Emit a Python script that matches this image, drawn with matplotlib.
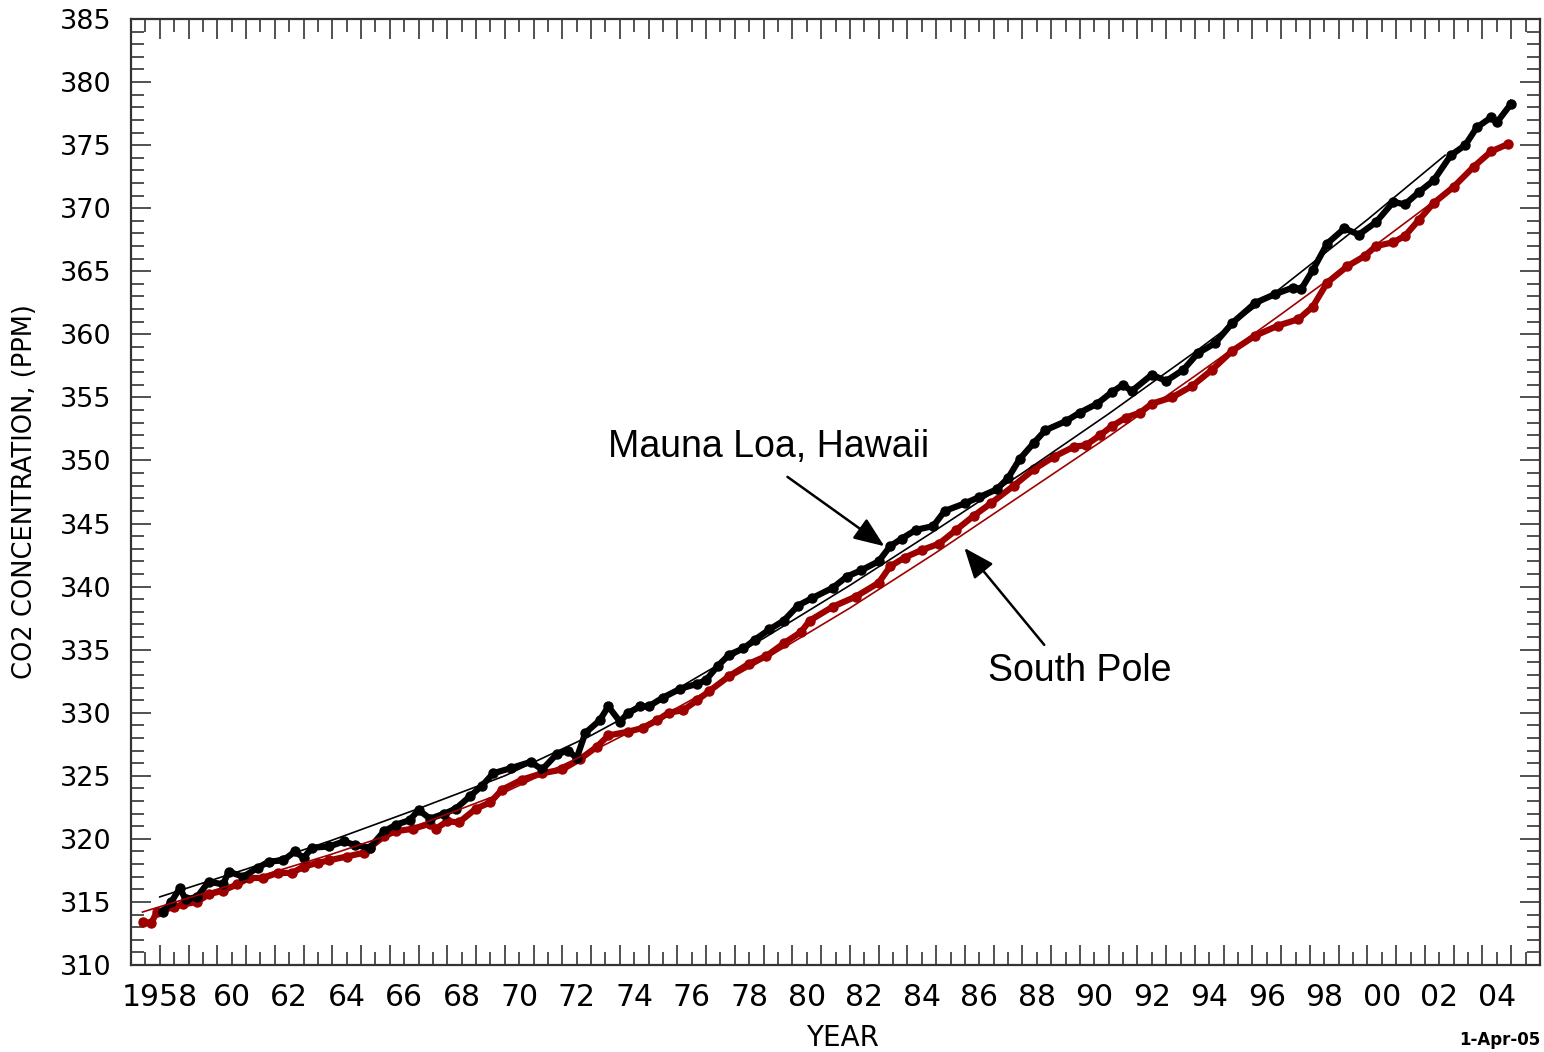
import matplotlib.pyplot as plt
from matplotlib.ticker import MultipleLocator

# deseasonalised monthly CO2, year / ppm
mlo_year = [1958.1, 1958.4, 1958.7, 1958.9, 1959.3, 1959.7, 1960.2, 1960.4, 1960.9, 1961.4,
            1961.8, 1962.3, 1962.7, 1963.0, 1963.3, 1963.9, 1964.4, 1964.8, 1965.3, 1965.8,
            1966.2, 1966.7, 1967.0, 1967.4, 1967.9, 1968.3, 1968.8, 1969.2, 1969.6, 1970.2,
            1970.9, 1971.3, 1971.8, 1972.2, 1972.5, 1972.8, 1973.3, 1973.6, 1974.0, 1974.3,
            1974.7, 1975.0, 1975.5, 1976.1, 1976.7, 1977.0, 1977.4, 1977.8, 1978.3, 1978.7,
            1979.2, 1979.7, 1980.2, 1980.7, 1981.4, 1981.9, 1982.4, 1983.0, 1983.4, 1983.8,
            1984.3, 1984.9, 1985.3, 1986.0, 1986.5, 1987.1, 1987.5, 1987.9, 1988.4, 1988.8,
            1989.5, 1990.0, 1990.6, 1991.1, 1991.5, 1991.8, 1992.5, 1993.0, 1993.6, 1994.1,
            1994.7, 1995.3, 1996.1, 1996.8, 1997.4, 1997.7, 1998.1, 1998.6, 1999.2, 1999.7,
            2000.3, 2000.9, 2001.3, 2001.8, 2002.3, 2002.9, 2003.4, 2003.8, 2004.3, 2004.5,
            2005.0]
mlo_ppm = [314.2, 315.0, 316.1, 315.2, 315.4, 316.6, 316.4, 317.4, 317.0, 317.7,
           318.2, 318.3, 319.0, 318.5, 319.3, 319.4, 319.8, 319.5, 319.3, 320.6,
           321.1, 321.5, 322.3, 321.6, 322.0, 322.4, 323.4, 324.2, 325.2, 325.6,
           326.1, 325.5, 326.7, 327.0, 326.4, 328.4, 329.4, 330.5, 329.3, 330.0,
           330.5, 330.5, 331.2, 331.9, 332.3, 332.6, 333.7, 334.6, 335.1, 335.8,
           336.6, 337.3, 338.5, 339.1, 339.9, 340.8, 341.3, 342.0, 343.2, 343.8,
           344.5, 344.8, 346.0, 346.6, 347.1, 347.7, 348.6, 350.1, 351.4, 352.4,
           353.1, 353.8, 354.5, 355.4, 356.0, 355.5, 356.8, 356.3, 357.2, 358.5,
           359.3, 360.9, 362.5, 363.2, 363.7, 363.6, 365.1, 367.2, 368.4, 367.9,
           368.9, 370.5, 370.3, 371.3, 372.2, 374.2, 375.0, 376.4, 377.2, 376.8,
           378.3]

spo_year = [1957.4, 1957.7, 1957.9, 1958.5, 1958.8, 1959.3, 1959.7, 1960.2, 1960.7, 1961.1,
            1961.6, 1962.1, 1962.6, 1963.0, 1963.5, 1963.9, 1964.5, 1965.1, 1965.3, 1965.8,
            1966.2, 1966.8, 1967.4, 1967.6, 1968.0, 1968.4, 1969.0, 1969.5, 1969.9, 1970.6,
            1971.3, 1972.0, 1972.6, 1973.2, 1973.6, 1974.3, 1974.8, 1975.3, 1975.7, 1976.2,
            1976.7, 1977.1, 1977.8, 1978.5, 1979.1, 1979.7, 1980.3, 1980.6, 1981.4, 1982.2,
            1983.0, 1983.4, 1983.9, 1984.5, 1985.1, 1985.7, 1986.3, 1986.9, 1987.7, 1988.4,
            1989.1, 1989.8, 1990.2, 1990.7, 1991.1, 1991.6, 1992.1, 1992.5, 1993.2, 1993.9,
            1994.6, 1995.3, 1996.1, 1996.9, 1997.6, 1998.1, 1998.6, 1999.3, 1999.9, 2000.3,
            2000.9, 2001.3, 2001.8, 2002.3, 2003.0, 2003.7, 2004.3, 2004.9]
spo_ppm = [313.4, 313.3, 314.2, 314.6, 314.8, 315.0, 315.6, 315.9, 316.4, 316.9,
           316.9, 317.3, 317.3, 317.8, 318.1, 318.3, 318.6, 318.9, 319.3, 320.2,
           320.6, 320.8, 321.2, 320.8, 321.4, 321.3, 322.4, 322.9, 323.9, 324.7,
           325.2, 325.5, 326.3, 327.3, 328.2, 328.5, 328.8, 329.4, 330.0, 330.2,
           331.0, 331.7, 332.9, 333.9, 334.5, 335.5, 336.4, 337.3, 338.4, 339.2,
           340.3, 341.6, 342.3, 342.9, 343.4, 344.5, 345.6, 346.6, 348.0, 349.3,
           350.3, 351.1, 351.2, 352.0, 352.7, 353.4, 353.8, 354.5, 355.0, 355.9,
           357.2, 358.7, 359.9, 360.7, 361.2, 362.2, 364.1, 365.4, 366.2, 367.0,
           367.3, 367.8, 369.1, 370.4, 371.7, 373.3, 374.5, 375.1]

# smooth fitted curves
mlo_fit_year = [1958.0, 1961.0, 1964.0, 1967.0, 1970.0, 1973.0, 1976.0, 1979.0,
                1982.0, 1985.0, 1988.0, 1991.0, 1994.0, 1997.0, 2000.0, 2002.7]
mlo_fit_ppm = [315.4, 317.6, 319.9, 322.4, 325.0, 328.2, 331.9, 335.9,
               340.1, 344.5, 349.0, 353.7, 358.6, 363.7, 369.1, 374.2]
spo_fit_year = [1957.4, 1961.0, 1964.0, 1967.0, 1970.0, 1973.0, 1976.0, 1979.0,
                1982.0, 1985.0, 1988.0, 1991.0, 1994.0, 1997.0, 2000.0, 2002.4]
spo_fit_ppm = [314.2, 316.7, 318.8, 321.1, 323.7, 326.9, 330.4, 334.2,
               338.3, 342.7, 347.3, 351.9, 356.7, 361.6, 366.6, 370.7]

year_labels = ['60', '62', '64', '66', '68', '70', '72', '74', '76', '78', '80',
               '82', '84', '86', '88', '90', '92', '94', '96', '98', '00', '02', '04']

RED = '#9E0000'

fig = plt.figure(figsize=(15.44, 10.52), dpi=100)
ax = fig.add_axes([131 / 1544, 87 / 1052, 1409 / 1544, 946 / 1052])

ax.plot(mlo_year, mlo_ppm, color='black', lw=4.5, marker='o', ms=6.5, zorder=3)
ax.plot(spo_year, spo_ppm, color=RED, lw=4.5, marker='o', ms=6.5, zorder=2)
ax.plot(mlo_fit_year, mlo_fit_ppm, color='black', lw=1.2, zorder=4)
ax.plot(spo_fit_year, spo_fit_ppm, color=RED, lw=1.2, zorder=4)

ax.set_xlim(1957, 2006)
ax.set_ylim(310, 385)

# year ticks: long at each year, short at half years, labels mid-year
ax.set_xticks(range(1957, 2007))
ax.set_xticklabels(['1958' if y == 1958 else '' for y in range(1957, 2007)])
minor_pos = [y + 0.5 for y in range(1957, 2006)]
minor_lab = []
for y in range(1957, 2006):
    minor_lab.append(year_labels[(y - 1960) // 2] if y >= 1960 and y % 2 == 0 else '')
ax.set_xticks(minor_pos, minor=True)
ax.set_xticklabels(minor_lab, minor=True)

ax.yaxis.set_major_locator(MultipleLocator(5))
ax.yaxis.set_minor_locator(MultipleLocator(1))

ax.tick_params(axis='both', which='both', direction='in', top=True, right=True,
               width=1.2, color='#333333')
ax.tick_params(which='major', length=14.5)
ax.tick_params(which='minor', length=9.5)
ax.tick_params(axis='x', which='both', labelsize=21.5, pad=13)
ax.tick_params(axis='y', which='both', labelsize=19.5, pad=14)
for s in ax.spines.values():
    s.set_linewidth(1.6)
    s.set_color('#333333')

ax.set_ylabel('CO2 CONCENTRATION, (PPM)', fontsize=18.5)
ax.yaxis.set_label_coords(-0.066, 0.5)
ax.set_xlabel('YEAR', fontsize=20)
ax.xaxis.set_label_coords(0.505, -0.062)

ann = dict(arrowstyle='-|>,head_length=0.75,head_width=0.3', color='black',
           lw=1.8, mutation_scale=25, shrinkA=0, shrinkB=0)
ax.annotate('', xy=(1983.2, 343.2), xytext=(1979.83, 348.7), arrowprops=ann)
ax.annotate('', xy=(1985.98, 343.07), xytext=(1988.76, 335.38), arrowprops=ann)
ax.text(1979.17, 351.1, 'Mauna Loa, Hawaii', fontsize=27, family='Liberation Sans',
        ha='center', va='center')
ax.text(1989.98, 333.3, 'South Pole', fontsize=27, family='Liberation Sans',
        ha='center', va='center')

fig.text(1540 / 1544, 12 / 1052, '1-Apr-05', fontsize=12, fontweight='bold',
         ha='right', va='center')

fig.savefig('out.png', dpi=100)
